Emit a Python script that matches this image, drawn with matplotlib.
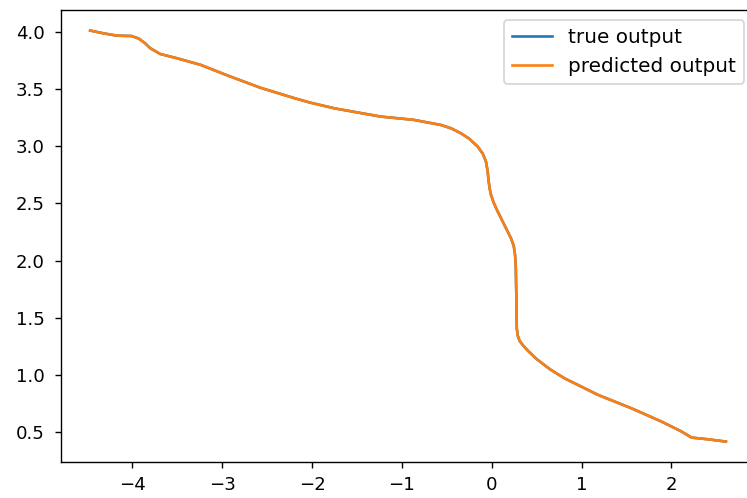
import matplotlib
matplotlib.use('Agg')
import matplotlib.pyplot as plt

# points (true and predicted overlap)
x_vals = [-4.47, -4.32, -4.17, -4.01, -3.93, -3.86, -3.80, -3.69, -3.50, -3.24,
          -2.95, -2.575, -2.20, -2.02, -1.75, -1.50, -1.235, -1.00, -0.864, -0.566,
          -0.45, -0.343, -0.25, -0.156, -0.10, -0.064, -0.045, -0.035, -0.025, -0.01,
          0.02, 0.06, 0.104, 0.215, 0.245, 0.26, 0.268, 0.275, 0.279, 0.290,
          0.310, 0.346, 0.40, 0.50, 0.65, 0.81, 1.183, 1.555, 1.89, 2.113,
          2.224, 2.41, 2.607]
y_true = [4.01, 3.985, 3.965, 3.962, 3.94, 3.90, 3.855, 3.805, 3.767, 3.71,
          3.62, 3.51, 3.42, 3.38, 3.33, 3.295, 3.258, 3.240, 3.229, 3.185,
          3.155, 3.112, 3.065, 2.996, 2.935, 2.865, 2.78, 2.70, 2.64, 2.58,
          2.51, 2.44, 2.37, 2.195, 2.13, 2.05, 1.95, 1.65, 1.409, 1.345,
          1.300, 1.262, 1.215, 1.14, 1.05, 0.972, 0.827, 0.71, 0.594, 0.507,
          0.454, 0.439, 0.419]
y_pred = list(y_true)

plt.rcParams['xtick.labelsize'] = 10.5
plt.rcParams['ytick.labelsize'] = 10.5
plt.rcParams['xtick.major.pad'] = 4.5
plt.rcParams['ytick.major.pad'] = 5.5

fig = plt.figure(figsize=(6, 4), dpi=124.5)
ax = fig.add_axes([0.081, 0.072, 0.932, 0.908])
ax.plot(x_vals, y_true, label='true output')
ax.plot(x_vals, y_pred, label='predicted output')
ax.set_xlim(-4.80, 2.95)
ax.legend(loc='upper right', fontsize=11.6, bbox_to_anchor=(744 / 747, 478 / 498),
          bbox_transform=fig.transFigure, borderaxespad=0)
fig.savefig('out.png', dpi=124.5)
